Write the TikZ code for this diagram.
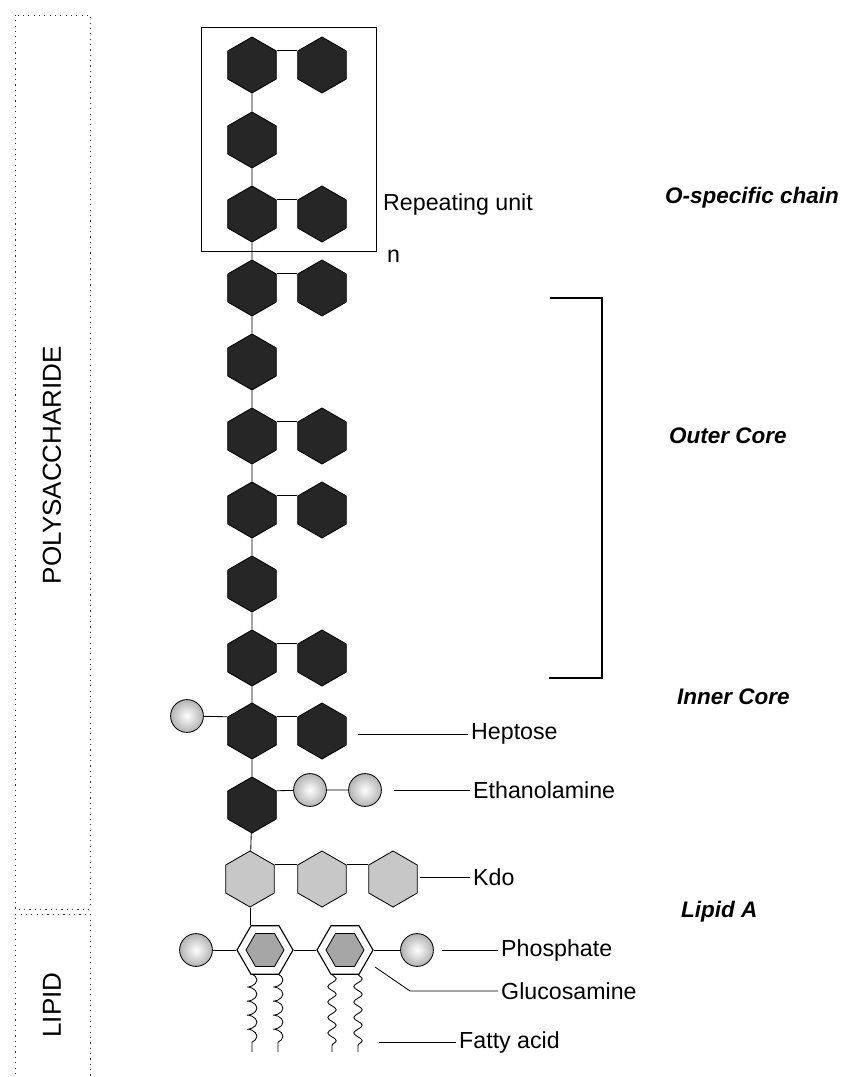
\documentclass[tikz,border=0pt]{standalone}
\usepackage{fontspec}
\setmainfont{Liberation Sans}
\usetikzlibrary{shapes.geometric}
\usetikzlibrary{decorations.pathmorphing}

\begin{document}
\begin{tikzpicture}[x=0.025cm, y=-0.025cm, line width=0.6pt,
	sugar/.style={regular polygon, regular polygon sides=6, shape border rotate=30,
		minimum size=1.4cm, inner sep=0pt, fill=black!85, draw=black},
	kdo/.style={sugar, fill=black!22},
	glc/.style={regular polygon, regular polygon sides=6, minimum size=1.4cm,
		inner sep=0pt, draw=black, line width=0.8pt, fill=white},
	glcin/.style={regular polygon, regular polygon sides=6, minimum size=0.95cm,
		inner sep=0pt, draw=black, fill=black!35},
	ball/.style={circle, minimum size=0.82cm, inner sep=0pt, draw=black,
		shading=radial, inner color=white, outer color=black!30},
	lbl/.style={anchor=west, inner sep=2pt, font=\fontsize{16.5}{18}\selectfont},
	part/.style={anchor=west, font=\bfseries\itshape\fontsize{16}{18}\selectfont},
	side/.style={rotate=90, font=\fontsize{18.5}{20}\selectfont},
	region/.style={draw=black!80, dash pattern=on 0.8pt off 3pt},
	chain/.style={decorate, decoration={coil, aspect=0.5, segment length=10pt, amplitude=3.5pt}},
	wave/.style={decorate, decoration={snake, segment length=11pt, amplitude=3pt}}]
	\useasboundingbox (0,0) rectangle (844,1077);

	% Left region boxes
	\draw[region] (15,15) rectangle (90,909);
	\draw[region] (15,1090) -- (15,914) -- (90,914) -- (90,1090);
	\node[side] (poly) at (52,465) {POLYSACCHARIDE};
	\node[side] (lipid) at (52,1005) {LIPID};

	% Main chain
	\node[sugar] (h0) at (252,65) {};
	\node[sugar] (h1) at (252,140) {};
	\node[sugar] (h2) at (252,214) {};
	\node[sugar] (h3) at (252,288) {};
	\node[sugar] (h4) at (252,362) {};
	\node[sugar] (h5) at (252,436) {};
	\node[sugar] (h6) at (252,510) {};
	\node[sugar] (h7) at (252,584) {};
	\node[sugar] (h8) at (252,658) {};
	\node[sugar] (h9) at (252,731) {};
	\node[sugar] (h10) at (252,805) {};

	% Branches
	\node[sugar] (s0) at (322,65) {};
	\node[sugar] (s2) at (322,214) {};
	\node[sugar] (s3) at (322,288) {};
	\node[sugar] (s5) at (322,436) {};
	\node[sugar] (s6) at (322,510) {};
	\node[sugar] (s8) at (322,658) {};
	\node[sugar] (s9) at (322,731) {};

	\node[ball] (c9) at (187,716) {};
	\node[ball] (e1) at (310,790) {};
	\node[ball] (e2) at (365,790) {};

	% Kdo and lipid A
	\node[kdo] (k1) at (250,879) {};
	\node[kdo] (k2) at (322,879) {};
	\node[kdo] (k3) at (393,879) {};

	\node[glc] (g1) at (265,950) {};
	\node[glc] (g2) at (345,950) {};
	\node[glcin] (g1in) at (265,950) {};
	\node[glcin] (g2in) at (345,950) {};
	\node[ball] (p1) at (196,950) {};
	\node[ball] (p2) at (417,950) {};

	% Links
	\draw (h0) -- (h1) -- (h2) -- (h3) -- (h4) -- (h5) -- (h6) -- (h7) -- (h8) -- (h9) -- (h10) -- (k1);
	\foreach \n in {0,2,3,5,6,8,9}
		\draw (h\n.30) -- (s\n.150);
	\draw (c9) -- (h9.150);
	\draw (h10.30) -- (e1) -- (e2);
	\draw (k1.30) -- (k2.150);
	\draw (k2.30) -- (k3.150);
	\draw (k1.south) -- (k1.south |- g1.north);
	\draw (p1) -- (g1.west);
	\draw (g1.east) -- (g2.west);
	\draw (g2.east) -- (p2);

	% Fatty acid chains
	\coordinate (fa1) at (252,974);
	\coordinate (fa2) at (278,974);
	\coordinate (fa3) at (332,974);
	\coordinate (fa4) at (358,974);
	\coordinate (fb1) at (252,1052);
	\coordinate (fb2) at (278,1052);
	\coordinate (fb3) at (332,1052);
	\coordinate (fb4) at (358,1052);
	\draw[chain] (fa1) -- (fb1);
	\draw[chain] (fa2) -- (fb2);
	\draw[wave] (fa3) -- (fb3);
	\draw[wave] (fa4) -- (fb4);

	% Repeating unit
	\draw (201,27) rectangle (376,251);
	\node[lbl] (rep) at (380,205) {Repeating unit};
	\node[lbl] (n) at (384,256) {n};

	% Outer core bracket
	\coordinate (br1) at (550,298);
	\coordinate (br2) at (602,298);
	\coordinate (br3) at (602,678);
	\coordinate (br4) at (549,678);
	\draw[line width=0.9pt] (br1) -- (br2) -- (br3) -- (br4);

	% Component labels
	\node[lbl] (hep) at (468,734) {Heptose};
	\node[lbl] (eth) at (470,790) {Ethanolamine};
	\node[lbl] (kdol) at (470,877) {Kdo};
	\node[lbl] (pho) at (498,950) {Phosphate};
	\node[lbl] (glcl) at (498,991) {Glucosamine};
	\node[lbl] (fat) at (456,1042) {Fatty acid};
	\coordinate (hept) at (358,734);
	\coordinate (etht) at (394,790);
	\coordinate (kdot) at (420,877);
	\coordinate (phot) at (442,950);
	\coordinate (glct) at (375,967);
	\coordinate (glcb) at (410,991);
	\coordinate (fatt) at (379,1042);
	\draw (hept) -- (hep);
	\draw (etht) -- (eth);
	\draw (kdot) -- (kdol);
	\draw (phot) -- (pho);
	\draw (glct) -- (glcb) -- (glcl);
	\draw (fatt) -- (fat);

	% Region labels
	\node[part] (ochain) at (660,198) {O-specific chain};
	\node[part] (outer) at (664,436) {Outer Core};
	\node[part] (inner) at (672,697) {Inner Core};
	\node[part] (lipa) at (676,912) {Lipid A};
\end{tikzpicture}
\end{document}
